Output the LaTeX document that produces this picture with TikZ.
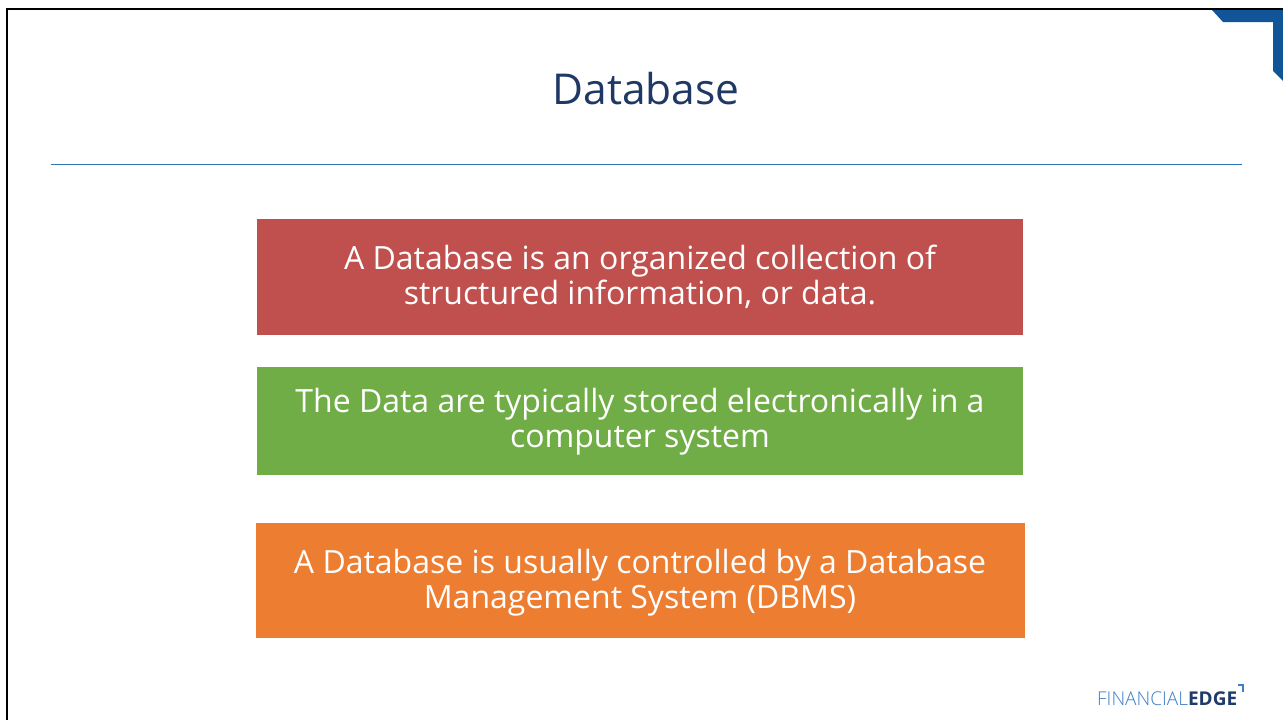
\documentclass[tikz,border=0pt]{standalone}
\usepackage{fontspec}
\setmainfont{Open Sans}
\definecolor{navy}{HTML}{1F3864}
\definecolor{rule}{HTML}{2E75B6}
\definecolor{corner}{HTML}{115598}
\definecolor{boxred}{HTML}{C0504D}
\definecolor{boxgreen}{HTML}{70AD47}
\definecolor{boxorange}{HTML}{ED7D31}
\definecolor{logolight}{HTML}{3F7FC8}
\definecolor{logodark}{HTML}{1F3A6B}
\tikzset{
  infobox/.style={inner sep=0pt, text=white, align=center,
    font=\fontsize{32}{35}\selectfont},
}
\begin{document}
\begin{tikzpicture}[x=1pt,y=-1pt]
\useasboundingbox (0,0) rectangle (1283,720);
\fill[white] (0,0) rectangle (1283,720);
% frame
\draw[line width=2.5pt,black] (7,720) -- (7,9) -- (1283,9);
% corner
\fill[corner] (1212,10) -- (1283,10) -- (1283,81) -- (1273,71) -- (1273,22) -- (1223,22) -- cycle;
% title
\node[text=navy, font=\fontsize{42.5}{48}\selectfont, anchor=base] (title) at (646,104) {Database};
\draw[rule, line width=1.2pt] (51,164.5) -- (1242,164.5);
% boxes
\fill[boxred] (257,219) rectangle (1023,335);
\node[infobox] (b1) at (640,277) {A Database is an organized collection of\\structured information, or data.};
\fill[boxgreen] (257,367) rectangle (1023,475);
\node[infobox] (b2) at (640,421.5) {The Data are typically stored electronically in a\\computer system};
\fill[boxorange] (256,523) rectangle (1025,638);
\node[infobox] (b3) at (640,582.5) {A Database is usually controlled by a Database\\Management System (DBMS)};
% logo
\node[anchor=base west, inner sep=0pt, font=\fontsize{19}{20}\selectfont] (logo) at (1097,705)
  {\color{logolight}\fontspec{Open Sans Light}FINANCIAL\color{logodark}\fontspec{Open Sans Bold}EDGE};
\draw[logolight, line width=1.6pt] (1237.5,685) -- (1243,685) -- (1243,692);
\end{tikzpicture}
\end{document}
